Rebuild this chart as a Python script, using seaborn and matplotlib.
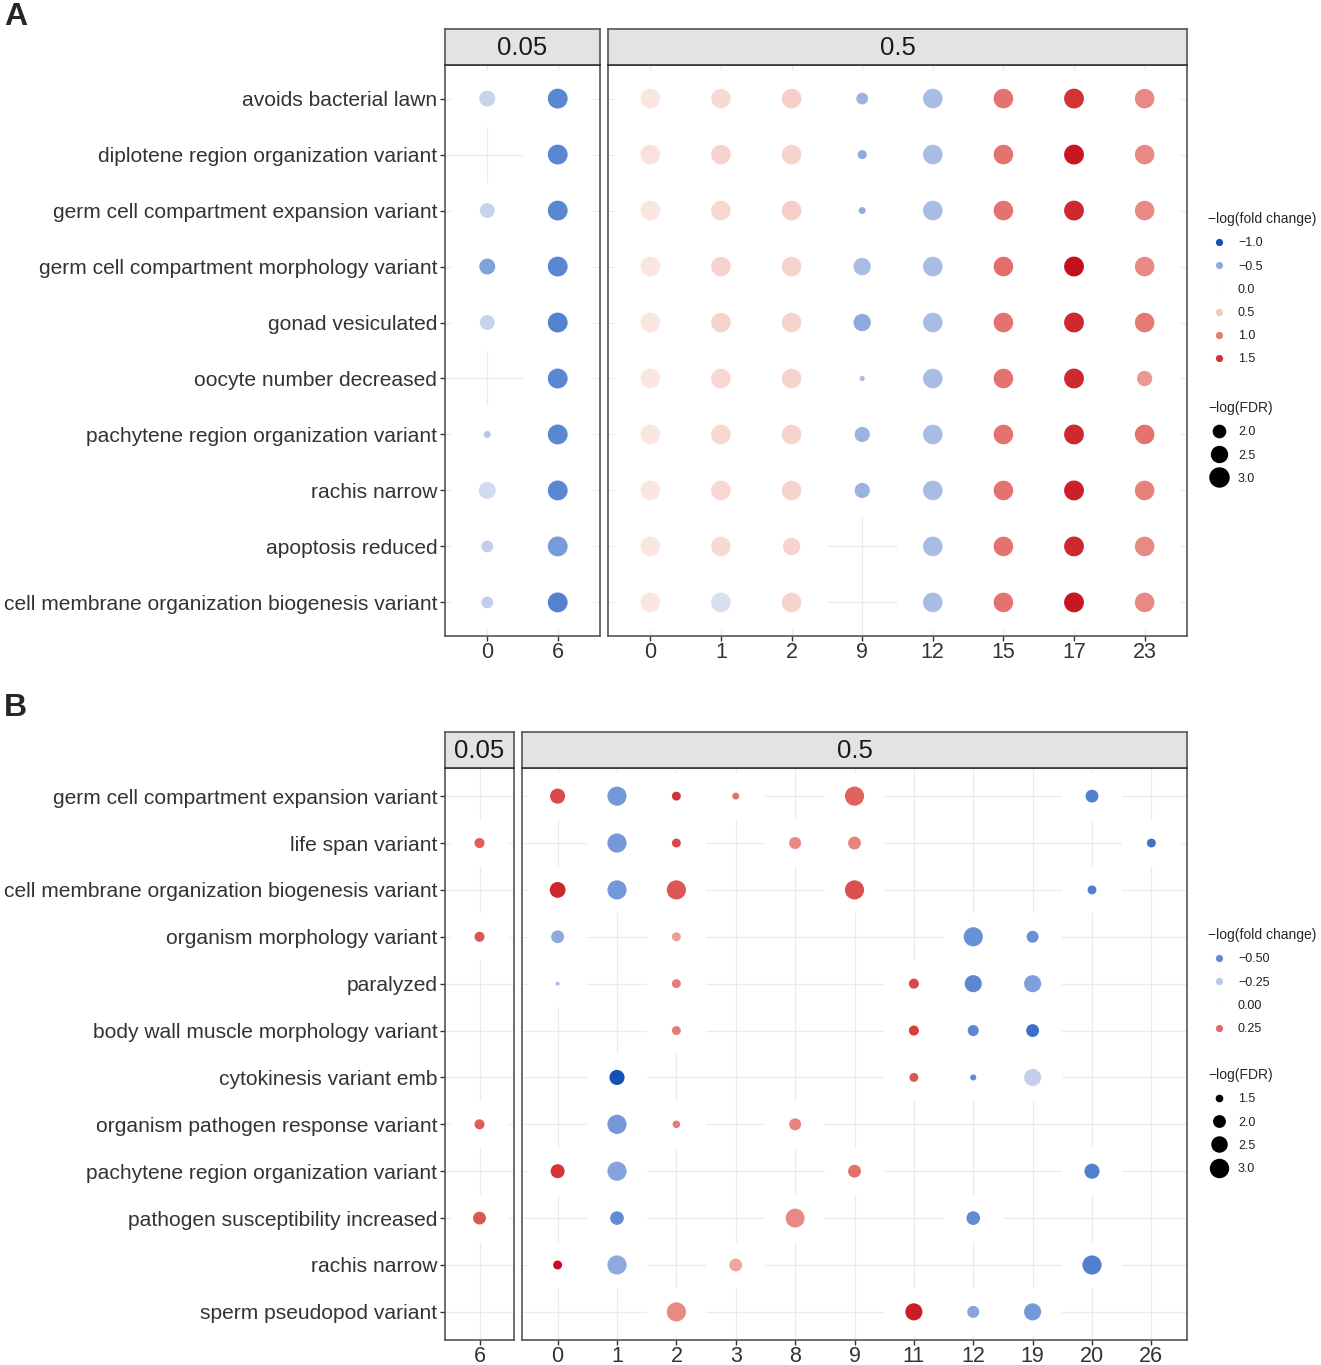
import numpy as np
import pandas as pd
import seaborn as sns
import matplotlib.pyplot as plt
from matplotlib.colors import LinearSegmentedColormap, TwoSlopeNorm
from matplotlib.lines import Line2D

nan = np.nan

# ---------------- data: panel A ----------------
A_terms = ['avoids bacterial lawn', 'diplotene region organization variant',
           'germ cell compartment expansion variant', 'germ cell compartment morphology variant',
           'gonad vesiculated', 'oocyte number decreased', 'pachytene region organization variant',
           'rachis narrow', 'apoptosis reduced', 'cell membrane organization biogenesis variant']
A_x_005 = ['0', '6']
A_x_05 = ['0', '1', '2', '9', '12', '15', '17', '23']

A_fc_005 = [[-0.28, -0.70], [nan, -0.70], [-0.28, -0.70], [-0.55, -0.70], [-0.28, -0.72],
            [nan, -0.70], [-0.35, -0.70], [-0.22, -0.70], [-0.30, -0.58], [-0.30, -0.72]]
A_fdr_005 = [[2.3, 2.9], [nan, 2.9], [2.15, 2.9], [2.3, 2.9], [2.15, 2.9],
             [nan, 2.9], [1.4, 2.9], [2.45, 2.9], [1.8, 2.9], [1.8, 2.9]]

A_fc_05 = [[0.25, 0.35, 0.45, -0.45, -0.40, 1.05, 1.50, 0.90],
           [0.28, 0.42, 0.42, -0.50, -0.40, 1.05, 1.65, 0.90],
           [0.25, 0.38, 0.45, -0.50, -0.40, 1.05, 1.55, 0.90],
           [0.25, 0.42, 0.42, -0.40, -0.40, 1.10, 1.70, 0.90],
           [0.25, 0.42, 0.42, -0.50, -0.40, 1.05, 1.55, 1.00],
           [0.25, 0.38, 0.42, -0.40, -0.40, 1.05, 1.55, 0.80],
           [0.25, 0.38, 0.42, -0.45, -0.40, 1.05, 1.55, 1.05],
           [0.25, 0.38, 0.42, -0.45, -0.40, 1.05, 1.60, 0.95],
           [0.25, 0.35, 0.42, nan, -0.40, 1.05, 1.55, 0.90],
           [0.25, -0.20, 0.42, nan, -0.40, 1.05, 1.65, 0.90]]
A_fdr_05 = [[2.85, 2.85, 2.85, 1.80, 2.85, 2.85, 2.9, 2.85],
            [2.85, 2.85, 2.85, 1.55, 2.85, 2.85, 2.9, 2.85],
            [2.85, 2.85, 2.85, 1.40, 2.85, 2.85, 2.9, 2.85],
            [2.85, 2.85, 2.85, 2.50, 2.85, 2.85, 2.9, 2.85],
            [2.85, 2.85, 2.85, 2.50, 2.85, 2.85, 2.9, 2.85],
            [2.85, 2.85, 2.85, 1.30, 2.85, 2.85, 2.9, 2.20],
            [2.85, 2.85, 2.85, 2.20, 2.85, 2.85, 2.9, 2.85],
            [2.85, 2.85, 2.85, 2.20, 2.85, 2.85, 2.9, 2.85],
            [2.85, 2.85, 2.50, nan, 2.85, 2.85, 2.9, 2.85],
            [2.85, 2.85, 2.85, nan, 2.85, 2.85, 2.9, 2.85]]

# ---------------- data: panel B ----------------
B_terms = ['germ cell compartment expansion variant', 'life span variant',
           'cell membrane organization biogenesis variant', 'organism morphology variant',
           'paralyzed', 'body wall muscle morphology variant', 'cytokinesis variant emb',
           'organism pathogen response variant', 'pachytene region organization variant',
           'pathogen susceptibility increased', 'rachis narrow', 'sperm pseudopod variant']
B_x_005 = ['6']
B_x_05 = ['0', '1', '2', '3', '8', '9', '11', '12', '19', '20', '26']

B_fc_005 = [[nan], [0.27], [nan], [0.28], [nan], [nan], [nan], [0.27], [nan], [0.28], [nan], [nan]]
B_fdr_005 = [[nan], [1.7], [nan], [1.7], [nan], [nan], [nan], [1.7], [nan], [2.0], [nan], [nan]]

B_fc_05 = [[0.30, -0.45, 0.33, 0.24, nan, 0.26, nan, nan, nan, -0.55, nan],
           [nan, -0.45, 0.30, nan, 0.20, 0.21, nan, nan, nan, nan, -0.60],
           [0.35, -0.45, 0.28, nan, nan, 0.29, nan, nan, nan, -0.55, nan],
           [-0.38, nan, 0.17, nan, nan, nan, nan, -0.48, -0.48, nan, nan],
           [-0.30, nan, 0.22, nan, nan, nan, 0.30, -0.52, -0.42, nan, nan],
           [nan, nan, 0.22, nan, nan, nan, 0.32, -0.52, -0.62, nan, nan],
           [nan, -0.75, nan, nan, nan, nan, 0.28, -0.50, -0.22, nan, nan],
           [nan, -0.45, 0.22, nan, 0.21, nan, nan, nan, nan, nan, nan],
           [0.33, -0.40, nan, nan, nan, 0.24, nan, nan, nan, -0.55, nan],
           [nan, -0.50, nan, nan, 0.20, nan, nan, -0.50, nan, nan, nan],
           [0.38, -0.38, nan, 0.16, nan, nan, nan, nan, nan, -0.55, nan],
           [nan, nan, 0.20, nan, nan, nan, 0.36, -0.40, -0.45, nan, nan]]
B_fdr_05 = [[2.3, 2.95, 1.6, 1.45, nan, 2.95, nan, nan, nan, 2.0, nan],
            [nan, 2.95, 1.6, nan, 1.9, 2.0, nan, nan, nan, nan, 1.6],
            [2.4, 2.95, 2.95, nan, nan, 2.95, nan, nan, nan, 1.6, nan],
            [2.0, nan, 1.6, nan, nan, nan, nan, 2.95, 1.9, nan, nan],
            [1.3, nan, 1.6, nan, nan, nan, 1.7, 2.6, 2.6, nan, nan],
            [nan, nan, 1.6, nan, nan, nan, 1.7, 1.8, 2.0, nan, nan],
            [nan, 2.3, nan, nan, nan, nan, 1.6, 1.4, 2.6, nan, nan],
            [nan, 2.95, 1.5, nan, 1.9, nan, nan, nan, nan, nan, nan],
            [2.15, 2.95, nan, nan, nan, 2.0, nan, nan, nan, 2.3, nan],
            [nan, 2.1, nan, nan, 2.9, nan, nan, 2.1, nan, nan, nan],
            [1.6, 2.95, nan, 2.0, nan, nan, nan, nan, nan, 2.95, nan],
            [nan, nan, 2.95, nan, nan, nan, 2.6, 1.9, 2.6, nan, nan]]

A_fc_breaks = [-1.0, -0.5, 0.0, 0.5, 1.0, 1.5]
A_fdr_breaks = [2.0, 2.5, 3.0]
B_fc_breaks = [-0.50, -0.25, 0.00, 0.25]
B_fdr_breaks = [1.5, 2.0, 2.5, 3.0]

# ---------------- style ----------------
W, H = 1321, 1365
sns.set_theme(style='white')
plt.rcParams['font.family'] = ['Liberation Sans', 'DejaVu Sans']

# blue - white - red ramp (lighter, warmer mid tones like ggplot's gradient2)
CMAP = LinearSegmentedColormap.from_list('fc', [
    (0.00, '#1252B4'), (0.15, '#5A86D2'), (0.35, '#C3CFEA'), (0.50, '#FFFFFF'),
    (0.625, '#F7D2CC'), (0.775, '#E8847E'), (0.925, '#D63C3C'), (1.00, '#C4101C')])
A_norm = TwoSlopeNorm(vmin=-1.0, vcenter=0.0, vmax=1.7)
B_norm = TwoSlopeNorm(vmin=-0.75, vcenter=0.0, vmax=0.38)
A_size = dict(norm=(1.3, 3.1), sizes=(13, 228))
B_size = dict(norm=(1.3, 3.2), sizes=(8.3, 218))

EDGE = '#555555'
TXT = '#333333'


def rect(l, t, r, b):
    return [l / W, 1 - b / H, (r - l) / W, (b - t) / H]


def size_of(v, cfg):
    lo, hi = cfg['norm']
    s0, s1 = cfg['sizes']
    return s0 + (v - lo) / (hi - lo) * (s1 - s0)


def facet(box, strip_box, label, fc, fdr, xcats, terms, norm, scfg, first):
    ax = fig.add_axes(rect(*box))
    rows = []
    for i, term in enumerate(terms):
        for j, xc in enumerate(xcats):
            if not np.isnan(fc[i][j]):
                rows.append({'x': j, 'y': i, 'fc': fc[i][j], 'fdr': fdr[i][j]})
    df = pd.DataFrame(rows)
    # white tile under every point (hides grid in the cell)
    ax.bar(df['x'], 1.0, width=1.0, bottom=df['y'] - 0.5, color='white', linewidth=0, zorder=1)
    sns.scatterplot(data=df, x='x', y='y', hue='fc', size='fdr', palette=CMAP, hue_norm=norm,
                    sizes=scfg['sizes'], size_norm=scfg['norm'], linewidth=0, edgecolor='none',
                    legend=False, ax=ax, zorder=2)
    ax.set_xlim(-0.6, len(xcats) - 0.4)
    ax.set_ylim(len(terms) - 0.4, -0.6)
    ax.set_xticks(range(len(xcats)))
    ax.set_xticklabels(xcats, fontsize=15.5, color=TXT)
    ax.set_yticks(range(len(terms)))
    if first:
        ax.set_yticklabels(terms, fontsize=15.1, color=TXT)
        ax.tick_params(axis='y', left=True, length=3.5, width=1, color=TXT, pad=2)
    else:
        ax.set_yticklabels([])
        ax.tick_params(axis='y', left=False, length=0)
    ax.tick_params(axis='x', bottom=True, length=3.5, width=1, color=TXT, pad=0.8)
    ax.set_xlabel('')
    ax.set_ylabel('')
    ax.set_axisbelow(True)
    ax.grid(True, color='#EBEBEB', linewidth=0.9)
    for sp in ax.spines.values():
        sp.set_color(EDGE)
        sp.set_linewidth(1.2)

    sax = fig.add_axes(rect(*strip_box))
    sax.set_facecolor('#E3E3E3')
    sax.set_xticks([])
    sax.set_yticks([])
    for sp in sax.spines.values():
        sp.set_color(EDGE)
        sp.set_linewidth(1.2)
    sax.spines['bottom'].set_color('#333333')
    sax.text(0.5, 0.47, label, ha='center', va='center', fontsize=18.5, color='#1a1a1a',
             transform=sax.transAxes)
    return ax


def legends(fc_breaks, fdr_breaks, norm, scfg, fc_top, fdr_top, fc_fmt):
    common = dict(loc='upper left', frameon=False, fontsize=9, title_fontsize=10,
                  alignment='left', handlelength=1.7, handletextpad=0.7,
                  labelspacing=0.9, borderpad=0, borderaxespad=0)
    hs = [Line2D([], [], marker='o', linestyle='', markersize=5.2, markeredgewidth=0,
                 color=CMAP(norm(v))) for v in fc_breaks]
    lab = [(fc_fmt % v).replace('-', '\u2212') for v in fc_breaks]
    l1 = fig.legend(hs, lab, title='\u2212log(fold change)',
                    bbox_to_anchor=(1208 / W, 1 - fc_top / H), **common)
    hs2 = [Line2D([], [], marker='o', linestyle='', markersize=np.sqrt(size_of(v, scfg)),
                  markeredgewidth=0, color='black') for v in fdr_breaks]
    l2 = fig.legend(hs2, ['%.1f' % v for v in fdr_breaks], title='\u2212log(FDR)',
                    bbox_to_anchor=(1208 / W, 1 - fdr_top / H), **common)
    for lg in (l1, l2):
        for t in lg.get_texts():
            t.set_color('#222222')


fig = plt.figure(figsize=(W / 100, H / 100), dpi=100)

# panel A
facet((445, 65, 600, 636), (445, 29, 600, 65), '0.05', A_fc_005, A_fdr_005, A_x_005, A_terms,
      A_norm, A_size, True)
facet((608, 65, 1187, 636), (608, 29, 1187, 65), '0.5', A_fc_05, A_fdr_05, A_x_05, A_terms,
      A_norm, A_size, False)
legends(A_fc_breaks, A_fdr_breaks, A_norm, A_size, 212, 401, '%.1f')

# panel B
facet((445, 768, 514, 1340), (445, 732, 514, 768), '0.05', B_fc_005, B_fdr_005, B_x_005, B_terms,
      B_norm, B_size, True)
facet((522, 768, 1187, 1340), (522, 732, 1187, 768), '0.5', B_fc_05, B_fdr_05, B_x_05, B_terms,
      B_norm, B_size, False)
legends(B_fc_breaks, B_fdr_breaks, B_norm, B_size, 928, 1068, '%.2f')

fig.text(4 / W, 1 - 2 / H, 'A', fontsize=23, fontweight='bold', va='top', ha='left')
fig.text(4 / W, 1 - 693 / H, 'B', fontsize=23, fontweight='bold', va='top', ha='left')

fig.savefig('out.png', dpi=100)
